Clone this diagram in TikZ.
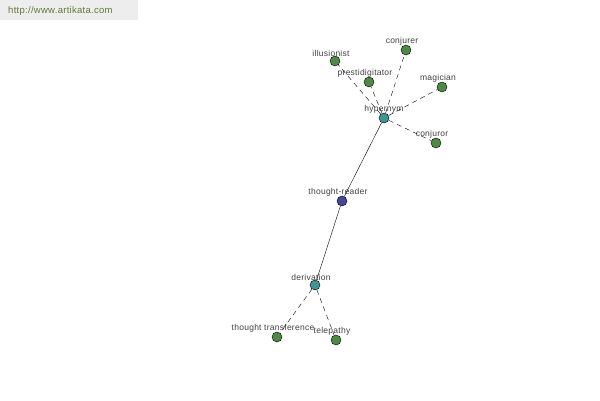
\documentclass[tikz,border=0pt]{standalone}
\usepackage{fontspec}
\setmainfont{Liberation Sans}[LetterSpace=3]
\definecolor{leaf}{HTML}{4E8A46}
\definecolor{hub}{HTML}{3F9494}
\definecolor{root}{HTML}{45489A}
\definecolor{wmark}{HTML}{5E7A36}
\begin{document}
\begin{tikzpicture}
  [x=1pt,y=-1pt,every node/.style={circle,draw=black,line width=0.4pt,inner sep=0pt,minimum size=10pt,
   label distance=-1.5pt,every label/.style={rectangle,draw=none,fill=none,minimum size=0pt,xshift=-4pt,
   font=\fontsize{8.5}{9}\selectfont,text=black!75,inner sep=1pt}}]
  \tikzstyle{word} = [fill=leaf]
  \tikzstyle{rel} = [fill=hub]
  \useasboundingbox (0,0) rectangle (600,400);
  \fill[black!7] (0,0) rectangle (138,20);
  \node[draw=none,fill=none,rectangle,inner sep=0pt,minimum size=0pt,anchor=west,
    font=\fontsize{9.5}{10}\selectfont,text=wmark] (site) at (8,11) {http://www.artikata.com};
  \node[fill=root,label=above:thought-reader] (reader) at (342,201) {};
  \node[rel,label={[xshift=4pt]above:hypernym}] (hyper) at (384,118) {};
  \node[rel,label=above:derivation] (deriv) at (315,285) {};
  \node[word,label=above:illusionist] (illus) at (335,61) {};
  \node[word,label=above:prestidigitator] (presti) at (369,82) {};
  \node[word,label=above:conjurer] (conjr) at (406,50) {};
  \node[word,label=above:magician] (magic) at (442,87) {};
  \node[word,label=above:conjuror] (conjo) at (436,143) {};
  \node[word,label=above:thought transference] (transf) at (277,337) {};
  \node[word,label=above:telepathy] (telep) at (336,340) {};
  \foreach \source /\dest in {reader/hyper,reader/deriv}
   \draw[thin] (\source) -- (\dest);
  \foreach \source /\dest in {hyper/illus,hyper/presti,hyper/conjr,hyper/magic,hyper/conjo,deriv/transf,deriv/telep}
   \draw[thin,dash pattern=on 5pt off 4pt] (\source) -- (\dest);
\end{tikzpicture}
\end{document}
